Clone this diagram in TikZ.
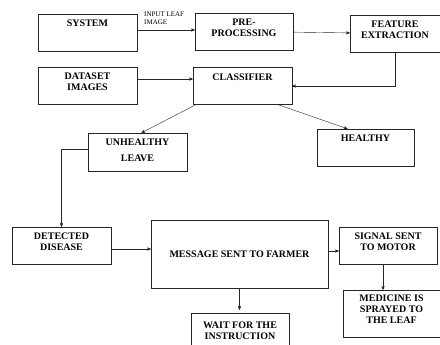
\documentclass[tikz,border=0pt]{standalone}
\usepackage{fontspec}
\setmainfont{Liberation Serif}
\usetikzlibrary{positioning,arrows}

\begin{document}
\begin{tikzpicture}[->,>=stealth',x=1pt,y=-1pt,thin,draw=black!85]
          \tikzstyle{box}=[draw=black!85,-,rectangle,minimum width=99pt,minimum height=37pt,inner sep=0pt]
          \tikzstyle{lbl}=[anchor=north,inner sep=0pt,yshift=-6pt,align=center,font=\fontsize{10}{11}\selectfont\bfseries]
          \tikzstyle{small}=[inner sep=0pt,align=left,font=\fontsize{7}{7.5}\selectfont]
          \useasboundingbox (0,0) rectangle (440,345);
          \node[box,label={[lbl]north:SYSTEM}]                  (sys)  at (87.5,32.5)  {};
          \node[box,minimum width=98pt,label={[lbl]north:{PRE-\\PROCESSING}}] (pre) at (244,31.5) {};
          \node[box,minimum width=90pt,label={[lbl]north:{FEATURE\\EXTRACTION}}] (feat) at (395,33.5) {};
          \node[box,label={[lbl]north:{DATASET\\IMAGES}}]       (data) at (87.5,85.5)  {};
          \node[box,label={[lbl]north:CLASSIFIER}]              (cls)  at (242.5,86)   {};
          \node[box,minimum height=38pt,label={[lbl]north:{UNHEALTHY\\[5pt]LEAVE}}] (unh) at (137.5,152) {};
          \node[box,minimum width=97pt,label={[lbl]north:HEALTHY}] (hea) at (365.5,147.5) {};
          \node[box,label={[lbl]north:{DETECTED\\DISEASE}}]     (det)  at (61.5,245.5) {};
          \node[box,minimum width=177pt,minimum height=68pt,font=\fontsize{10}{11}\selectfont\bfseries] (msg) at (239.5,254) {MESSAGE SENT TO FARMER};
          \node[box,minimum width=98pt,label={[lbl]north:{SIGNAL SENT\\TO MOTOR}}] (sig) at (388,245.5) {};
          \node[box,minimum width=97pt,minimum height=47pt,label={[lbl,yshift=1pt]north:{MEDICINE IS\\SPRAYED TO\\THE LEAF}}] (med) at (391.5,313.5) {};
          \node[box,minimum width=98pt,minimum height=34pt,label={[lbl,yshift=-3pt]north:{WAIT FOR THE\\INSTRUCTION}}] (wait) at (240,330) {};
          \node[small,anchor=north west] (inlbl) at (144,12) {INPUT LEAF\\IMAGE};
          \path
          ([yshift=2.5pt]sys.east) edge ([yshift=2.5pt]sys.east -| pre.west)
          (pre) edge (feat)
          (feat.south) edge[to path={|- (\tikztotarget)}] (cls.east)
          ([yshift=6.5pt]data.east) edge ([yshift=6.5pt]data.east -| cls.west)
          ([xshift=3pt]cls.south west) edge ([xshift=4pt]unh.north)
          ([xshift=-14pt]cls.south east) edge ([xshift=-18pt]hea.north)
          ([yshift=3pt]unh.west) edge[to path={-| (\tikztotarget)}] (det.north)
          ([yshift=-3.5pt]det.east) edge ([yshift=-3.5pt]det.east -| msg.west)
          ([yshift=3pt]msg.east) edge ([yshift=3pt]msg.east -| sig.west)
          (msg.south) edge ([yshift=3pt]msg.south |- wait.north)
          ([xshift=-5pt]sig.south) edge ([xshift=-5pt]sig.south |- med.north);
        \end{tikzpicture}
\end{document}
